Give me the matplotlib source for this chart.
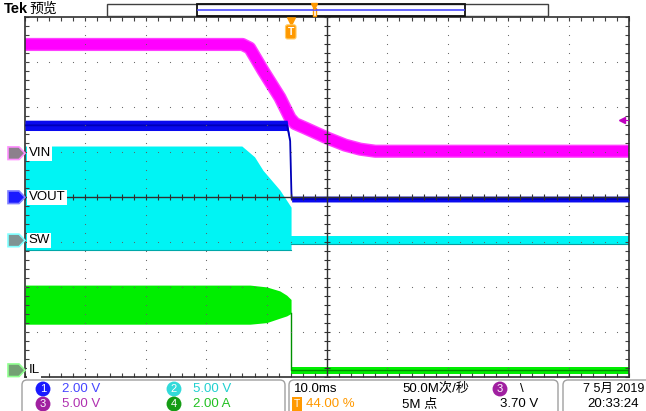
import numpy as np
import matplotlib
matplotlib.use('Agg')
import matplotlib.pyplot as plt
from matplotlib import font_manager
from matplotlib.patches import Polygon, FancyBboxPatch, Rectangle
from matplotlib.ticker import MultipleLocator
from matplotlib.transforms import blended_transform_factory, IdentityTransform

# scope settings: 10 ms/div, trigger at 44 % of the record
t_left, t_right = -44.0, 56.0
t_center = 6.0
ch_scale = {'VOUT': 2.0, 'SW': 5.0, 'VIN': 5.0, 'IL': 2.0}      # units per div
ch_offset = {'VOUT': 0.0, 'SW': -0.96, 'VIN': 0.98, 'IL': -3.85}  # ground position, div
ch_number = {'VOUT': '1', 'SW': '2', 'VIN': '3', 'IL': '4'}
trig_level = 3.70

# ch3 VIN (V)
vin_t = [-44, -8, -6.8, -4.6, -1.8, -0.1, 0.7, 2.4, 6, 9, 11.5, 14, 56]
vin_v = [12.1, 12.1, 11.7, 9.2, 6.2, 3.9, 3.3, 2.8, 1.7, 0.9, 0.45, 0.22, 0.22]

# ch1 VOUT (V) with noise band
vout_t = [-44, -0.6, -0.1, 0.1, 0.15, 56]
vout_v = [3.2, 3.2, 2.5, 0.3, -0.08, -0.08]
vout_noise = [0.23, 0.23, 0.05, 0.05, 0.13, 0.13]

# ch2 SW (V): switching envelope, then idle
sw_t = [-44, -8.1, -6.0, -4.6, -1.8, 0.05]
sw_top = [10.5, 10.5, 9.3, 7.8, 5.6, 3.7]
sw_bot = [-1.1, -1.1, -1.1, -1.1, -1.1, -1.1]
sw_off_t = [0.05, 56]
sw_off_v = [0.0, 0.0]
sw_off_noise = [0.45, 0.45]

# ch4 IL (A): ripple envelope, then zero
il_t = [-44, -6.75, -4.0, -1.8, -0.67, 0.05]
il_top = [3.79, 3.79, 3.71, 3.53, 3.34, 3.15]
il_bot = [2.05, 2.05, 2.12, 2.32, 2.42, 2.53]
il_off_t = [0.05, 0.05, 56]
il_off_v = [2.53, 0.0, 0.0]
il_off_noise = [0.0, 0.16, 0.16]


def to_div(name, v):
    return np.asarray(v) / ch_scale[name] + ch_offset[name]


names = {f.name for f in font_manager.fontManager.ttflist}
narrow = 'Liberation Sans Narrow' if 'Liberation Sans Narrow' in names else 'Liberation Sans'
fam = [narrow, 'Noto Sans CJK SC']
plt.rcParams['font.family'] = fam

W, H = 646, 411
fig = plt.figure(figsize=(W / 100, H / 100), dpi=100)
fig.patch.set_facecolor('white')


def fx(x):
    return x / W


def fy(y):
    return 1 - y / H


ax = fig.add_axes([fx(25), fy(377), fx(629) - fx(25), fy(17.5) - fy(377)])
ax.set_xlim(t_left, t_right)
ax.set_ylim(-4, 4)
ax.set_xticks([])
ax.set_yticks([])
ax.xaxis.set_minor_locator(MultipleLocator(2))
ax.yaxis.set_minor_locator(MultipleLocator(0.2))
ax.tick_params(which='minor', direction='in', length=3, width=0.8, color='#404040',
               top=True, right=True, bottom=True, left=True)
for s in ax.spines.values():
    s.set_color('#303030')
    s.set_linewidth(1.2)

# traces
ax.fill_between(sw_t, to_div('SW', sw_bot), to_div('SW', sw_top), color='#00f4f4', lw=0, zorder=1)
ax.plot(sw_t, to_div('SW', sw_bot), color='#00a8a8', lw=0.8, zorder=1)
ax.fill_between(sw_off_t, to_div('SW', np.subtract(sw_off_v, sw_off_noise)),
                to_div('SW', np.add(sw_off_v, sw_off_noise)), color='#00f4f4', lw=0, zorder=1)
ax.plot(sw_off_t, to_div('SW', np.subtract(sw_off_v, sw_off_noise)), color='#00a0a0', lw=0.8, zorder=1)

ax.plot(vin_t, to_div('VIN', vin_v), color='#ff40ff', lw=9.5, solid_joinstyle='round',
        solid_capstyle='butt', zorder=2)
ax.plot(vin_t, to_div('VIN', vin_v), color='#ff00ff', lw=7.5, solid_joinstyle='round',
        solid_capstyle='butt', zorder=2)

ax.fill_between(vout_t, to_div('VOUT', np.subtract(vout_v, vout_noise)),
                to_div('VOUT', np.add(vout_v, vout_noise)), color='#0a0aee', lw=0, zorder=3)
ax.plot(vout_t, to_div('VOUT', vout_v), color='#0000b8', lw=1.3, zorder=3)

ax.fill_between(il_t, to_div('IL', il_bot), to_div('IL', il_top), color='#00ee00', lw=0, zorder=1)
ax.fill_between(il_off_t, to_div('IL', np.subtract(il_off_v, il_off_noise)),
                to_div('IL', np.add(il_off_v, il_off_noise)), color='#00ee00', lw=0, zorder=1)
ax.plot(il_off_t, to_div('IL', il_off_v), color='#009000', lw=1.0, zorder=1)

# graticule
dot_y = np.arange(-4, 4.001, 0.2)
dot_x = np.arange(t_left, t_right + 0.001, 2)
for k in range(1, 10):
    xg = t_left + 10 * k
    if xg != t_center:
        ax.scatter(np.full(dot_y.size, xg), dot_y, s=0.7, c='#606060', lw=0, zorder=5)
for yg in [-3, -2, -1, 1, 2, 3]:
    ax.scatter(dot_x, np.full(dot_x.size, yg), s=0.7, c='#606060', lw=0, zorder=5)
ax.axvline(t_center, color='#303030', lw=1.0, zorder=6)
ax.axhline(0, color='#303030', lw=1.0, zorder=6)
ax.plot(dot_x, np.zeros(dot_x.size), ls='none', marker='|', ms=5, mew=0.8, color='#303030', zorder=6)
ax.plot(np.full(dot_y.size, t_center), dot_y, ls='none', marker='_', ms=5, mew=0.8, color='#303030', zorder=6)

# trigger markers
top_tr = blended_transform_factory(ax.transData, ax.transAxes)
ax.plot([0], [0.99], transform=top_tr, marker='v', ms=6, color='#ff9900', zorder=8, clip_on=False)
ax.text(0, 0.96, 'T', transform=top_tr, ha='center', va='center', fontsize=7.5, color='white',
        weight='bold', zorder=8, bbox=dict(boxstyle='round,pad=0.2', fc='#ff9900', ec='#ffcc66', lw=0.8))
ax.plot([54.9], [to_div('VIN', trig_level)], marker='<', ms=5, color='#c000c0', zorder=8)
ax.plot([54.9, t_right], [to_div('VIN', trig_level)] * 2, color='#c000c0', lw=0.8, zorder=8)

# channel labels and ground markers
lab_tr = blended_transform_factory(ax.transAxes, ax.transData)
mark_tr = blended_transform_factory(fig.transFigure, ax.transData)
mark_style = {'VIN': ('#8c808c', '#ff90ff', '#e0e0e0'),
              'VOUT': ('#1a1aff', '#8080ff', 'white'),
              'SW': ('#7f9494', '#80ffff', '#e0e0e0'),
              'IL': ('#74a074', '#90ff90', '#e0e0e0')}
for name in ['VIN', 'VOUT', 'SW', 'IL']:
    y0 = ch_offset[name]
    ax.text(0.006, y0, name, transform=lab_tr, ha='left', va='center', fontsize=9.5,
            color='black', zorder=9, bbox=dict(boxstyle='square,pad=0.1', fc='white', ec='none'))
    fc, ec, tc = mark_style[name]
    dy = 0.14
    poly = Polygon([[fx(8), y0 - dy], [fx(19), y0 - dy], [fx(25), y0], [fx(19), y0 + dy], [fx(8), y0 + dy]],
                   closed=True, transform=mark_tr, fc=fc, ec=ec, lw=1.2, clip_on=False, zorder=9)
    fig.patches.append(poly)
    ax.text(fx(14), y0, ch_number[name], transform=mark_tr, ha='center', va='center',
            fontsize=8.5, color=tc, zorder=10, clip_on=False)

# top bar
fig.text(fx(4), fy(9), 'Tek', fontsize=10.5, weight='bold', ha='left', va='center')
fig.text(fx(29), fy(9), '预览', fontsize=10, ha='left', va='center', family=['Noto Sans CJK SC'])
fig.patches.append(Rectangle((fx(107), fy(16)), fx(548) - fx(107), fy(4) - fy(16),
                             transform=fig.transFigure, fc='white', ec='#404040', lw=1))
fig.patches.append(Rectangle((fx(197), fy(16)), fx(465) - fx(197), fy(4) - fy(16),
                             transform=fig.transFigure, fc='none', ec='#101010', lw=1.3))
fig.lines.append(plt.Line2D([fx(198), fx(464)], [fy(10), fy(10)], transform=fig.transFigure,
                            color='#4a4aff', lw=1.2))
fig.lines.append(plt.Line2D([fx(314)], [fy(6)], transform=fig.transFigure, marker='v', ms=4,
                            color='#ff9900', ls='none'))
fig.patches.append(Rectangle((fx(312.5), fy(16)), fx(316) - fx(312.5), fy(8) - fy(16),
                             transform=fig.transFigure, fc='white', ec='#ff9900', lw=1))

# bottom info panel
ident = IdentityTransform()
for x0, x1 in [(22, 285), (289, 558), (563, 660)]:
    fig.patches.append(FancyBboxPatch((x0, H - 425), x1 - x0, 45, boxstyle='round,pad=0,rounding_size=5',
                                      transform=ident, fc='white', ec='#a0a0a0', lw=1))


def badge(x, y, s, fc):
    fig.text(fx(x), fy(y), s, ha='center', va='center', fontsize=8, color='white',
             bbox=dict(boxstyle='circle,pad=0.22', fc=fc, ec='none'))


r1, r2 = 389, 404
fs = 9.5
badge(43, r1, '1', '#1a1aff')
fig.text(fx(62), fy(r1), '2.00 V', fontsize=fs, color='#4646ff', va='center')
badge(174, r1, '2', '#33dada')
fig.text(fx(193), fy(r1), '5.00 V', fontsize=fs, color='#22d0d0', va='center')
badge(43, r2, '3', '#a020a0')
fig.text(fx(62), fy(r2), '5.00 V', fontsize=fs, color='#b030b0', va='center')
badge(174, r2, '4', '#149c14')
fig.text(fx(193), fy(r2), '2.00 A', fontsize=fs, color='#22c022', va='center')

fig.text(fx(294), fy(r1), '10.0ms', fontsize=fs, color='black', va='center')
fig.text(fx(297), fy(r2), 'T', fontsize=7.5, color='white', va='center', ha='center',
         bbox=dict(boxstyle='square,pad=0.15', fc='#ff9900', ec='none'))
fig.text(fx(306), fy(r2), '44.00 %', fontsize=fs, color='#ff9900', va='center')
fig.text(fx(402), fy(r1), '50.0M次/秒', fontsize=fs, color='black', va='center')
fig.text(fx(402), fy(r2), '5M 点', fontsize=fs, color='black', va='center')
badge(500, r1, '3', '#a020a0')
fig.text(fx(520), fy(r1), '\\', fontsize=fs, color='black', va='center')
fig.text(fx(500), fy(r2), '3.70 V', fontsize=fs, color='black', va='center')
fig.text(fx(644), fy(r1), '7 5月 2019', fontsize=9, color='black', va='center', ha='right')
fig.text(fx(587), fy(r2), '20:33:24', fontsize=fs, color='black', va='center')

fig.savefig('out.png', dpi=100)
